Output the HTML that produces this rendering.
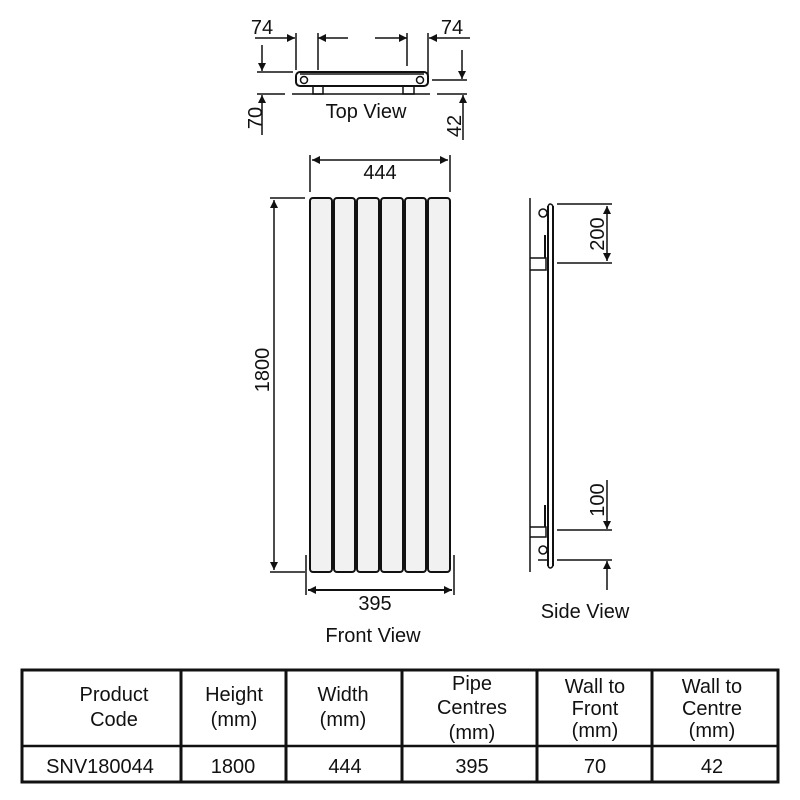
<!DOCTYPE html>
<html><head><style>
html,body{margin:0;padding:0;background:#fff;}
svg{display:block;}
text{font-family:"Liberation Sans",Arial,sans-serif;fill:#111;}
</style></head><body>
<svg width="800" height="800" viewBox="0 0 800 800" xmlns="http://www.w3.org/2000/svg">
<defs>
<marker id="a" viewBox="0 0 10 10" refX="10" refY="5" markerWidth="11" markerHeight="8" orient="auto-start-reverse" markerUnits="userSpaceOnUse"><path d="M0,0 L10,5 L0,10 z" fill="#111"/></marker>
</defs>
<g stroke="#111" stroke-width="1.5" fill="none">
<!-- TOP VIEW -->
<line x1="255" y1="38" x2="295" y2="38" marker-end="url(#a)"/>
<line x1="296" y1="33" x2="296" y2="70"/>
<line x1="318" y1="33" x2="318" y2="70"/>
<line x1="348" y1="38" x2="318" y2="38" marker-end="url(#a)"/>
<line x1="407" y1="33" x2="407" y2="66"/>
<line x1="375" y1="38" x2="407" y2="38" marker-end="url(#a)"/>
<line x1="428" y1="33" x2="428" y2="80"/>
<line x1="470" y1="38" x2="429" y2="38" marker-end="url(#a)"/>
<line x1="262" y1="45" x2="262" y2="71" marker-end="url(#a)"/>
<line x1="257" y1="72" x2="293" y2="72"/>
<rect x="296" y="72" width="132" height="14" rx="4" stroke-width="2"/>
<line x1="300" y1="74" x2="424" y2="74"/>
<circle cx="304" cy="80" r="3.5"/>
<circle cx="420" cy="80" r="3.5"/>
<rect x="313" y="86" width="10" height="8"/>
<rect x="403" y="86" width="11" height="8"/>
<line x1="257" y1="94" x2="285" y2="94"/>
<line x1="292" y1="94" x2="430" y2="94"/>
<line x1="437" y1="94" x2="467" y2="94"/>
<line x1="432" y1="80" x2="467" y2="80"/>
<line x1="462" y1="50" x2="462" y2="79" marker-end="url(#a)"/>
<line x1="262" y1="135" x2="262" y2="95" marker-end="url(#a)"/>
<line x1="463" y1="140" x2="463" y2="95" marker-end="url(#a)"/>
<!-- FRONT VIEW -->
<line x1="310" y1="155" x2="310" y2="192"/>
<line x1="450" y1="155" x2="450" y2="192"/>
<line x1="312" y1="160" x2="448" y2="160" marker-start="url(#a)" marker-end="url(#a)"/>
<line x1="270" y1="198" x2="305" y2="198"/>
<line x1="270" y1="572" x2="305" y2="572"/>
<line x1="274" y1="200" x2="274" y2="570" marker-start="url(#a)" marker-end="url(#a)"/>
<line x1="306" y1="555" x2="306" y2="595"/>
<line x1="454" y1="555" x2="454" y2="595"/>
<line x1="308" y1="590" x2="452" y2="590" marker-start="url(#a)" marker-end="url(#a)" stroke-width="2"/>
</g>
<g stroke="#111" stroke-width="2" fill="#f1f1f1">
<rect x="310" y="198" width="22" height="374" rx="3"/>
<rect x="334" y="198" width="21" height="374" rx="3"/>
<rect x="357" y="198" width="22" height="374" rx="3"/>
<rect x="381" y="198" width="22" height="374" rx="3"/>
<rect x="405" y="198" width="21" height="374" rx="3"/>
<rect x="428" y="198" width="22" height="374" rx="3"/>
</g>
<!-- SIDE VIEW -->
<g stroke="#111" stroke-width="1.5" fill="none">
<line x1="530" y1="198" x2="530" y2="572"/>
<line x1="548" y1="206" x2="548" y2="566" stroke-width="2"/>
<line x1="553" y1="206" x2="553" y2="566" stroke-width="2"/>
<path d="M548,206 Q550,202 553,206"/>
<path d="M548,566 Q550,570 553,566"/>
<circle cx="543" cy="213" r="4"/>
<circle cx="543" cy="550" r="4"/>
<path d="M530,258 H546 V270 H530"/>
<path d="M530,527 H546 V537 H530"/>
<line x1="545" y1="235" x2="545" y2="258" stroke-width="2"/>
<line x1="545" y1="505" x2="545" y2="527" stroke-width="2"/>
<line x1="538" y1="560" x2="548" y2="560"/>
<line x1="557" y1="204" x2="612" y2="204"/>
<line x1="557" y1="263" x2="612" y2="263"/>
<line x1="607" y1="206" x2="607" y2="261" marker-start="url(#a)" marker-end="url(#a)"/>
<line x1="557" y1="530" x2="612" y2="530"/>
<line x1="557" y1="560" x2="612" y2="560"/>
<line x1="607" y1="480" x2="607" y2="529" marker-end="url(#a)"/>
<line x1="607" y1="590" x2="607" y2="561" marker-end="url(#a)"/>
</g>
<!-- TEXT -->
<g font-size="20">
<text x="262" y="34" text-anchor="middle">74</text>
<text x="452" y="34" text-anchor="middle">74</text>
<text x="366" y="118" text-anchor="middle">Top View</text>
<text transform="translate(262,118) rotate(-90)" text-anchor="middle">70</text>
<text transform="translate(461,126) rotate(-90)" text-anchor="middle">42</text>
<text x="380" y="179" text-anchor="middle">444</text>
<text transform="translate(269,370) rotate(-90)" text-anchor="middle">1800</text>
<text x="375" y="610" text-anchor="middle">395</text>
<text x="373" y="642" text-anchor="middle">Front View</text>
<text x="585" y="618" text-anchor="middle">Side View</text>
<text transform="translate(604,234) rotate(-90)" text-anchor="middle">200</text>
<text transform="translate(604,500) rotate(-90)" text-anchor="middle">100</text>
</g>
<!-- TABLE -->
<g stroke="#111" stroke-width="3" fill="none">
<rect x="22" y="670" width="756" height="112"/>
<line x1="22" y1="746" x2="778" y2="746" stroke-width="2.5"/>
<line x1="181" y1="670" x2="181" y2="782"/>
<line x1="286" y1="670" x2="286" y2="782"/>
<line x1="402" y1="670" x2="402" y2="782"/>
<line x1="537" y1="670" x2="537" y2="782"/>
<line x1="652" y1="670" x2="652" y2="782"/>
</g>
<g font-size="20" text-anchor="middle">
<text x="114" y="701">Product</text><text x="114" y="726">Code</text>
<text x="234" y="701">Height</text><text x="234" y="726">(mm)</text>
<text x="343" y="701">Width</text><text x="343" y="726">(mm)</text>
<text x="472" y="690">Pipe</text><text x="472" y="714">Centres</text><text x="472" y="739">(mm)</text>
<text x="595" y="693">Wall to</text><text x="595" y="715">Front</text><text x="595" y="737">(mm)</text>
<text x="712" y="693">Wall to</text><text x="712" y="715">Centre</text><text x="712" y="737">(mm)</text>
<text x="100" y="773">SNV180044</text>
<text x="233" y="773">1800</text>
<text x="345" y="773">444</text>
<text x="472" y="773">395</text>
<text x="595" y="773">70</text>
<text x="712" y="773">42</text>
</g>
</svg>
</body></html>
